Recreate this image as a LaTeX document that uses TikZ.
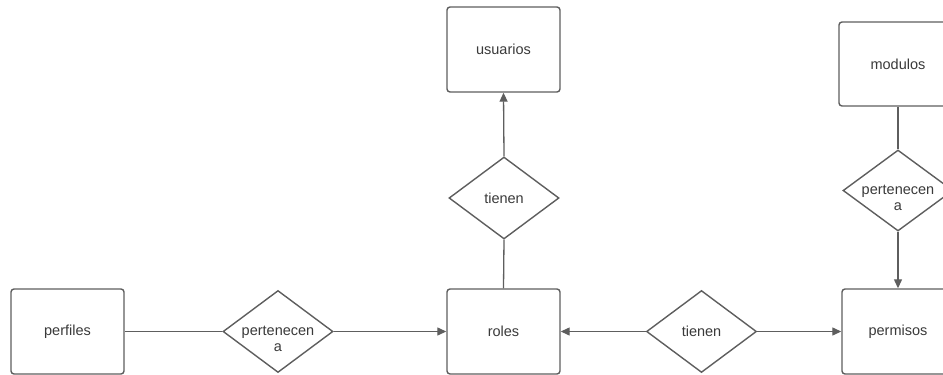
\documentclass[tikz,border=0pt]{standalone}
\usepackage{fontspec}
\setmainfont{Liberation Sans}
\usetikzlibrary{shapes.geometric,arrows.meta}
\definecolor{edge}{HTML}{5E5E5E}
\definecolor{ink}{HTML}{3A3A3A}
\begin{document}
\begin{tikzpicture}[x=1pt,y=-1pt,
  entity/.style={draw=edge,line width=1.4pt,rounded corners=3pt,fill=white,
    minimum width=113pt,minimum height=85pt,inner sep=0pt,
    font=\fontsize{14.5}{17}\selectfont,text=ink},
  relation/.style={draw=edge,line width=1.4pt,diamond,fill=white,
    minimum width=110pt,minimum height=82pt,inner sep=0pt},
  rtext/.style={font=\fontsize{14.5}{16}\selectfont,text=ink,align=center,inner sep=0pt},
  link/.style={draw=edge,line width=1.3pt},
  arrow/.style={link,-{Triangle[length=9pt,width=8pt]}}]
\useasboundingbox (0,0) rectangle (943,375);
\clip (0,0) rectangle (943,375);

% entities
\node[entity] (perfiles) at (67.5,331.5) {perfiles};
\node[entity] (usuarios) at (503.5,49.5) {usuarios};
\node[entity] (roles) at (503.5,331.5) {roles};
\node[entity,minimum width=118pt,minimum height=84pt] (modulos) at (898,64) {modulos};
\node[entity,minimum width=112pt] (permisos) at (898,331.5) {permisos};

% relations
\node[relation] (rel1) at (278,331.5) {};
\node[rtext,yshift=-7pt] (rel1t) at (rel1.center) {pertenecen\\a};
\node[relation] (rel2) at (504,198) {};
\node[rtext] (rel2t) at (rel2.center) {tienen};
\node[relation] (rel3) at (701.5,331.5) {};
\node[rtext] (rel3t) at (rel3.center) {tienen};
\node[relation,minimum height=81pt] (rel4) at (898,190.5) {};
\node[rtext,yshift=-7pt] (rel4t) at (rel4.center) {pertenecen\\a};

% connectors
\draw[link] (perfiles.east) -- (rel1.west);
\draw[arrow] (rel1.east) -- (roles.west);
\draw[link] (roles.north) -- (rel2.south);
\draw[arrow] (rel2.north) -- (usuarios.south);
\draw[arrow] (rel3.west) -- (roles.east);
\draw[arrow] (rel3.east) -- (permisos.west);
\draw[link] (modulos.south) -- (rel4.north);
\draw[arrow] (rel4.south) -- (permisos.north);
\end{tikzpicture}
\end{document}
